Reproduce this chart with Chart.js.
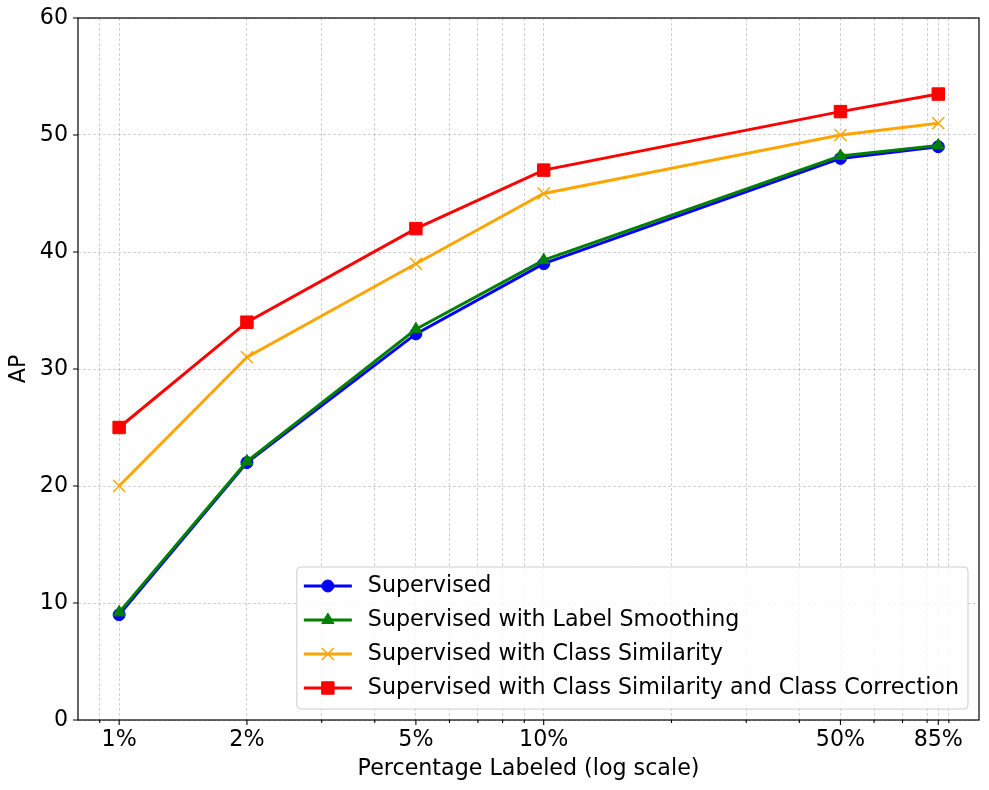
<!DOCTYPE html>
<html>
<head>
<meta charset="utf-8">
<script src="https://cdn.jsdelivr.net/npm/chart.js@4.4.1/dist/chart.umd.min.js"></script>
<style>
  html, body { margin: 0; padding: 0; background: #ffffff; }
  #wrap { width: 989px; height: 790px; }
</style>
</head>
<body>
<div id="wrap"><canvas id="c" width="989" height="790"></canvas></div>
<script>
// ---- data ----
const percentLabeled = [1, 2, 5, 10, 50, 85];
const supervised = [9, 22, 33, 39, 48, 49];
const labelSmoothing = [9.2, 22.1, 33.4, 39.3, 48.2, 49.1];
const classSimilarity = [20, 31, 39, 45, 50, 51];
const classCorrection = [25, 34, 42, 47, 52, 53.5];
const seriesNames = [
  'Supervised',
  'Supervised with Label Smoothing',
  'Supervised with Class Similarity',
  'Supervised with Class Similarity and Class Correction'
];
const xMajorTicks = [1, 2, 5, 10, 50, 85];
const xMinorTicks = [0.9, 3, 4, 6, 7, 8, 9, 20, 30, 40, 60, 70, 80, 90];
const yTicks = [0, 10, 20, 30, 40, 50, 60];
const xLimits = [0.8, 106];
const yLimits = [0, 60];
const xTitle = 'Percentage Labeled (log scale)';
const yTitle = 'AP';

// ---- styles ----
const FONT = '"DejaVu Sans", "Liberation Sans", sans-serif';
const FSIZE = 22.2;
Chart.defaults.font.family = FONT;
Chart.defaults.color = '#000000';

const seriesValues = [supervised, labelSmoothing, classSimilarity, classCorrection];
const seriesStyles = [
  { color: '#0000ff', pointStyle: 'circle',   radius: 6,   pbw: 1 },
  { color: '#008000', pointStyle: 'triangle', radius: 7,   pbw: 1 },
  { color: '#ffa500', pointStyle: 'crossRot', radius: 8.5, pbw: 1.5 },
  { color: '#ff0000', pointStyle: 'rect',     radius: 8.8, pbw: 1 }
];

const datasets = seriesValues.map((vals, i) => {
  const s = seriesStyles[i];
  return {
    label: seriesNames[i],
    data: percentLabeled.map((x, j) => ({ x: x, y: vals[j] })),
    borderColor: s.color,
    backgroundColor: s.color,
    pointBackgroundColor: s.color,
    pointBorderColor: s.color,
    borderWidth: 3,
    pointStyle: s.pointStyle,
    pointRadius: s.radius,
    pointBorderWidth: s.pbw,
    tension: 0,
    fill: false,
    clip: false,
    order: seriesValues.length - i
  };
});

const gridColor = '#b0b0b0';

function drawMarker(ctx, s, x, y) {
  ctx.save();
  ctx.fillStyle = s.color;
  ctx.strokeStyle = s.color;
  ctx.lineWidth = s.pbw;
  Chart.helpers.drawPoint(ctx, { pointStyle: s.pointStyle, radius: s.radius, rotation: 0, borderWidth: s.pbw }, x, y);
  ctx.restore();
}

const decor = {
  id: 'decor',
  afterDatasetsDraw(chart) {
    const ctx = chart.ctx;
    const a = chart.chartArea;
    const xs = chart.scales.x, ys = chart.scales.y;
    ctx.save();
    // tick marks
    ctx.strokeStyle = '#000000';
    ctx.lineWidth = 1.1;
    ctx.beginPath();
    xMajorTicks.forEach(v => {
      const px = xs.getPixelForValue(v);
      ctx.moveTo(px, a.bottom); ctx.lineTo(px, a.bottom + 5);
    });
    xMinorTicks.forEach(v => {
      const px = xs.getPixelForValue(v);
      ctx.moveTo(px, a.bottom); ctx.lineTo(px, a.bottom + 3);
    });
    yTicks.forEach(v => {
      const py = ys.getPixelForValue(v);
      ctx.moveTo(a.left - 5, py); ctx.lineTo(a.left, py);
    });
    ctx.stroke();
    // spines
    ctx.lineWidth = 1.2;
    ctx.strokeRect(a.left, a.top, a.right - a.left, a.bottom - a.top);

    // legend
    ctx.font = FSIZE + 'px ' + FONT;
    let maxW = 0;
    seriesNames.forEach(n => { maxW = Math.max(maxW, ctx.measureText(n).width); });
    const boxRight = a.right - 11;
    const boxBottom = a.bottom - 11;
    const boxTop = boxBottom - 142;
    const textX = boxRight - 9 - maxW;
    const boxLeft = textX - 71;
    ctx.beginPath();
    const r = 4;
    ctx.moveTo(boxLeft + r, boxTop);
    ctx.lineTo(boxRight - r, boxTop);
    ctx.arcTo(boxRight, boxTop, boxRight, boxTop + r, r);
    ctx.lineTo(boxRight, boxBottom - r);
    ctx.arcTo(boxRight, boxBottom, boxRight - r, boxBottom, r);
    ctx.lineTo(boxLeft + r, boxBottom);
    ctx.arcTo(boxLeft, boxBottom, boxLeft, boxBottom - r, r);
    ctx.lineTo(boxLeft, boxTop + r);
    ctx.arcTo(boxLeft, boxTop, boxLeft + r, boxTop, r);
    ctx.closePath();
    ctx.fillStyle = 'rgba(255,255,255,0.8)';
    ctx.fill();
    ctx.strokeStyle = '#cccccc';
    ctx.lineWidth = 1;
    ctx.stroke();

    seriesNames.forEach((n, i) => {
      const s = seriesStyles[i];
      const cy = boxTop + 19 + i * 34;
      const hx0 = boxLeft + 7, hx1 = boxLeft + 55;
      ctx.beginPath();
      ctx.strokeStyle = s.color;
      ctx.lineWidth = 3;
      ctx.moveTo(hx0, cy); ctx.lineTo(hx1, cy);
      ctx.stroke();
      drawMarker(ctx, s, (hx0 + hx1) / 2, cy);
      ctx.fillStyle = '#000000';
      ctx.textAlign = 'left';
      ctx.textBaseline = 'middle';
      ctx.fillText(n, textX, cy);
    });
    ctx.restore();
  }
};

new Chart(document.getElementById('c'), {
  type: 'line',
  data: { datasets: datasets },
  plugins: [decor],
  options: {
    responsive: false,
    animation: false,
    events: [],
    layout: { padding: { top: 18, right: 9, left: 0, bottom: 0 } },
    plugins: { legend: { display: false }, tooltip: { enabled: false } },
    scales: {
      x: {
        type: 'logarithmic',
        min: xLimits[0],
        max: xLimits[1],
        afterBuildTicks: s => {
          s.ticks = xMinorTicks.concat(xMajorTicks).sort((p, q) => p - q).map(v => ({ value: v }));
        },
        afterFit: s => { s.height = 70; s.paddingLeft = 0; s.paddingRight = 0; },
        ticks: {
          autoSkip: false, maxRotation: 0, minRotation: 0, padding: 7,
          color: '#000000', font: { size: FSIZE },
          callback: v => (xMajorTicks.indexOf(v) >= 0 ? v + '%' : '')
        },
        grid: { color: gridColor, lineWidth: 0.6, drawTicks: false },
        border: { display: false, dash: [3, 2] },
        title: { display: true, text: xTitle, color: '#000000', font: { size: FSIZE }, padding: { top: 0, bottom: 7 } }
      },
      y: {
        type: 'linear',
        min: yLimits[0],
        max: yLimits[1],
        afterBuildTicks: s => { s.ticks = yTicks.map(v => ({ value: v })); },
        afterFit: s => { s.width = 78; s.paddingTop = 0; s.paddingBottom = 0; },
        ticks: { padding: 10, color: '#000000', font: { size: FSIZE } },
        grid: { color: gridColor, lineWidth: 0.6, drawTicks: false },
        border: { display: false, dash: [3, 2] },
        title: { display: true, text: yTitle, color: '#000000', font: { size: FSIZE }, padding: { top: 6, bottom: 0 } }
      }
    }
  }
});
</script>
</body>
</html>
